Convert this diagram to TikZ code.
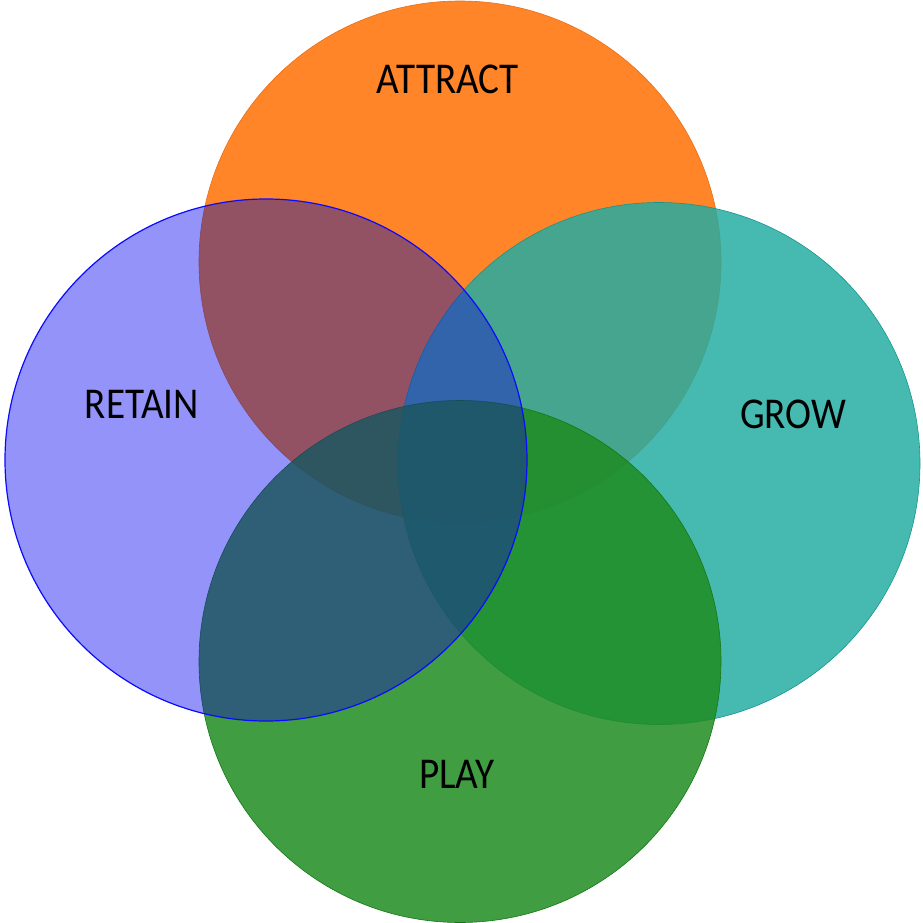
\documentclass[tikz,border=0pt]{standalone}
\usepackage{fontspec}
\setmainfont{Carlito}
\newfontfamily\labelfont[FakeStretch=0.89]{Carlito}
\definecolor{cOrange}{RGB}{255,126,28}
\definecolor{cOrangeLine}{RGB}{235,110,20}
\definecolor{cBlueMul}{RGB}{150,150,250}
\definecolor{cBlue}{RGB}{45,45,245}
\definecolor{cBlueLine}{RGB}{10,10,255}
\definecolor{cTeal}{RGB}{35,172,162}
\definecolor{cTealLine}{RGB}{20,150,140}
\definecolor{cGreen}{RGB}{30,140,32}
\definecolor{cGreenLine}{RGB}{20,120,20}
\tikzset{
  venn/.style={circle, minimum size=522pt, inner sep=0pt, line width=0.6pt},
  vlabel/.style={anchor=base, inner sep=0pt, font=\labelfont\fontsize{44}{50}\selectfont, text=black}
}
\begin{document}
\begin{tikzpicture}[x=1pt,y=-1pt]
\useasboundingbox (0,0) rectangle (922,923);
\node[venn, fill=cOrange, fill opacity=0.95, draw=cOrangeLine] (attract) at (460,262) {};
\node[venn, fill=cTeal, fill opacity=0.84, draw=cTealLine] (grow) at (659,463.5) {};
\node[venn, fill=cGreen, fill opacity=0.85, draw=cGreenLine] (play) at (460,661.5) {};
\begin{scope}[blend mode=multiply]
\node[venn, fill=cBlueMul, fill opacity=0.6] (retainmul) at (266,460) {};
\end{scope}
\node[venn, fill=cBlue, fill opacity=0.3] (retain) at (266,460) {};
\node[venn, draw=cBlueLine, line width=1.2pt] (retainedge) at (266,460) {};
\node[vlabel] (tattract) at (448,94) {ATTRACT};
\node[vlabel] (tretain) at (142,418) {RETAIN};
\node[vlabel] (tgrow) at (793,428) {GROW};
\node[vlabel] (tplay) at (457,788) {PLAY};
\end{tikzpicture}
\end{document}
